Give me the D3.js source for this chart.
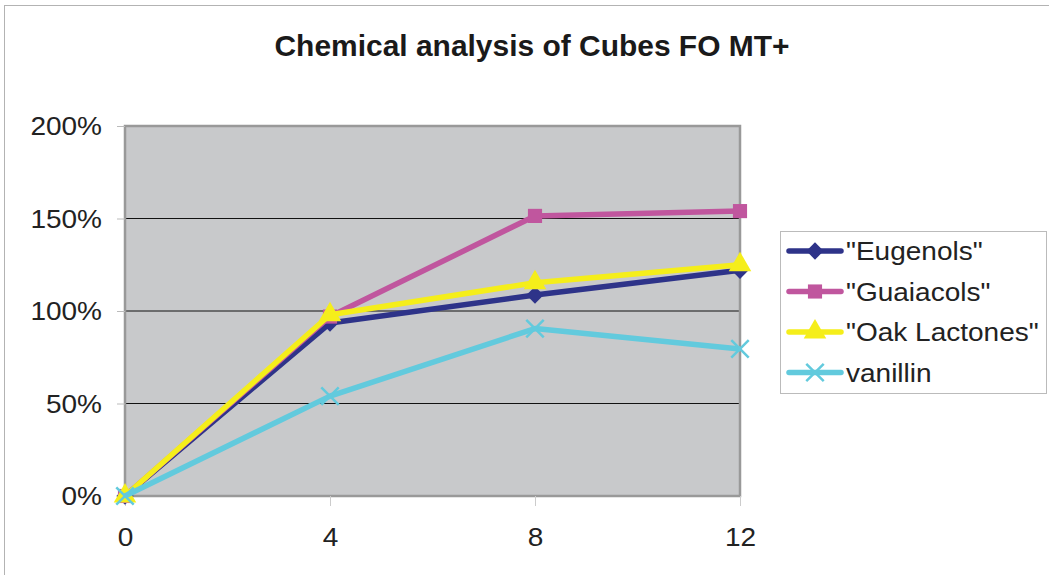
<!DOCTYPE html>
<html>
<head>
<meta charset="utf-8">
<script src="https://cdn.jsdelivr.net/npm/d3@7"></script>
<style>
  body { margin: 0; background: #fff; }
  svg { font-family: "Liberation Sans", Arial, sans-serif; }
</style>
</head>
<body>
<div id="chart"></div>
<script>
// data
var weeks = [0, 4, 8, 12];
var eugenols = [0, 0.935, 1.086, 1.22];
var guaiacols = [0, 0.97, 1.514, 1.54];
var oakLactones = [0, 0.98, 1.153, 1.25];
var vanillin = [0, 0.54, 0.905, 0.795];
var yTicks = [0, 0.5, 1, 1.5, 2];

var series = [
    { name: '"Eugenols"', values: eugenols, color: "#2e3389", symbol: d3.symbolDiamond2 },
    { name: '"Guaiacols"', values: guaiacols, color: "#c0569e", symbol: d3.symbolSquare },
    { name: '"Oak Lactones"', values: oakLactones, color: "#f5ee1a", symbol: d3.symbolTriangle },
    { name: "vanillin", values: vanillin, color: "#62cadd", symbol: d3.symbolX }
];

var width = 1049, height = 575;
var margin = { top: 126, right: 309, bottom: 79, left: 125 };
var w = width - margin.left - margin.right;
var h = height - margin.top - margin.bottom;

// the original text is a bit wider than Liberation Sans
function stretch(sel, k) {
    sel.each(function() {
        var len = this.getComputedTextLength();
        d3.select(this).attr("textLength", len * k).attr("lengthAdjust", "spacingAndGlyphs");
    });
}

var svg = d3.select("#chart").append("svg")
    .attr("width", width)
    .attr("height", height);

// outer chart border
svg.append("rect")
    .attr("x", 4.5).attr("y", 5.5)
    .attr("width", width + 10).attr("height", height + 10)
    .attr("fill", "none").attr("stroke", "#b3b3b3").attr("stroke-width", 1);

svg.append("text")
    .attr("x", 532).attr("y", 56)
    .attr("text-anchor", "middle")
    .style("font-size", "30px").style("font-weight", "bold")
    .attr("fill", "#1a1a1a")
    .attr("textLength", 515)
    .attr("lengthAdjust", "spacingAndGlyphs")
    .text("Chemical analysis of Cubes FO MT+");

var g = svg.append("g")
    .attr("transform", "translate(" + margin.left + "," + margin.top + ")");

var xScale = d3.scaleLinear().domain([0, 12]).range([0, w]);
var yScale = d3.scaleLinear().domain([0, 2]).range([h, 0]);

// plot background
g.append("rect")
    .attr("width", w).attr("height", h)
    .attr("fill", "#c8c9cb");

// gridlines
g.selectAll(".grid")
    .data(yTicks.slice(1))
    .enter().append("line")
    .attr("x1", 0).attr("x2", w)
    .attr("y1", function(d) { return yScale(d); })
    .attr("y2", function(d) { return yScale(d); })
    .attr("stroke", "#111").attr("stroke-width", 1);

g.append("rect")
    .attr("width", w).attr("height", h)
    .attr("fill", "none").attr("stroke", "#999").attr("stroke-width", 2.5);

// y axis
var yAxis = d3.axisLeft(yScale)
    .tickValues(yTicks)
    .tickFormat(d3.format(".0%"))
    .tickSize(8).tickPadding(15);
var yg = g.append("g").call(yAxis);
yg.select(".domain").remove();
yg.selectAll(".tick line").attr("stroke", "#bbb");
yg.selectAll(".tick text").attr("fill", "#222").style("font-size", "25px")
    .attr("dy", "0.34em")
    .call(stretch, 1.12);

// x axis
var xAxis = d3.axisBottom(xScale)
    .tickValues(weeks)
    .tickSize(10).tickPadding(22);
var xg = g.append("g").attr("transform", "translate(0," + h + ")").call(xAxis);
xg.select(".domain").remove();
xg.selectAll(".tick line").attr("stroke", "#ccc");
xg.selectAll(".tick text").attr("fill", "#222").style("font-size", "25px")
    .call(stretch, 1.12);

var line = d3.line()
    .x(function(d, i) { return xScale(weeks[i]); })
    .y(function(d) { return yScale(d); });

function drawMarker(sel, s) {
    if (s.symbol === d3.symbolX) {
        sel.append("path")
            .attr("d", d3.symbol().type(d3.symbolX).size(200)())
            .attr("fill", "none").attr("stroke", s.color).attr("stroke-width", 2.5);
    } else {
        var size = s.symbol === d3.symbolTriangle ? 220 : (s.symbol === d3.symbolSquare ? 200 : 190);
        sel.append("path")
            .attr("d", d3.symbol().type(s.symbol).size(size)())
            .attr("fill", s.color);
    }
}

// series drawn in order, vanillin last on top
series.forEach(function(s) {
    g.append("path")
        .datum(s.values)
        .attr("d", line)
        .attr("fill", "none")
        .attr("stroke", s.color)
        .attr("stroke-width", 5.5)
        .attr("stroke-linejoin", "round");
    s.values.forEach(function(v, i) {
        var m = g.append("g")
            .attr("transform", "translate(" + xScale(weeks[i]) + "," + yScale(v) + ")");
        drawMarker(m, s);
    });
});

// legend
var legend = svg.append("g").attr("transform", "translate(780,231)");
legend.append("rect")
    .attr("x", 0.5).attr("y", 0.5)
    .attr("width", 266).attr("height", 162)
    .attr("fill", "#fff").attr("stroke", "#bbb").attr("stroke-width", 1);

series.forEach(function(s, i) {
    var row = legend.append("g").attr("transform", "translate(0," + (20 + i * 40.5) + ")");
    row.append("line")
        .attr("x1", 9).attr("x2", 61)
        .attr("stroke", s.color).attr("stroke-width", 5.5).attr("stroke-linecap", "round");
    drawMarker(row.append("g").attr("transform", "translate(35,0)"), s);
    row.append("text")
        .attr("x", 66).attr("dy", "0.36em")
        .attr("fill", "#222")
        .style("font-size", "25px")
        .text(s.name)
        .call(stretch, 1.12);
});
</script>
</body>
</html>
